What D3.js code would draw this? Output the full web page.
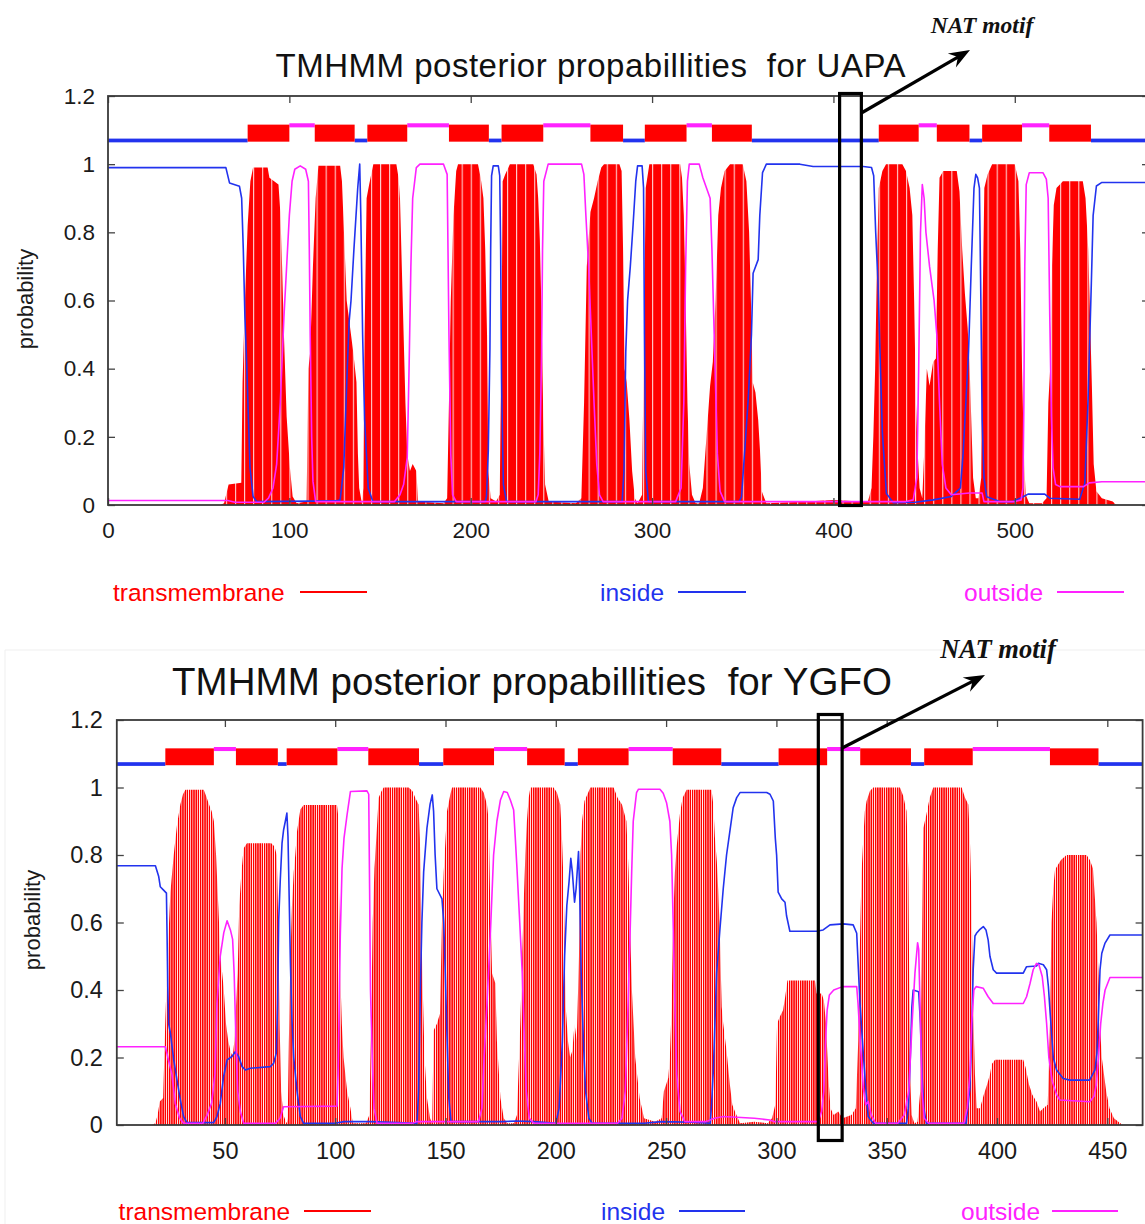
<!DOCTYPE html>
<html><head><meta charset="utf-8">
<script src="https://cdn.jsdelivr.net/npm/d3@7"></script>
<style>
html,body{margin:0;padding:0;background:#fff;}
svg{display:block;}
text{font-family:"Liberation Sans",Arial,sans-serif;}
text.nat{font-family:"Liberation Serif","Times New Roman",serif;font-style:italic;font-weight:bold;}
</style></head><body>
<svg id="chart" width="1145" height="1224"></svg>
<script>
// ---------------- DATA ----------------
const titles = ["TMHMM posterior propabillities  for UAPA", "TMHMM posterior propabillities  for YGFO"];
const legendLabels = ["transmembrane", "inside", "outside"];
const yTicks = [0, 0.2, 0.4, 0.6, 0.8, 1, 1.2];
const xTicksUapa = [0, 100, 200, 300, 400, 500];
const xTicksYgfo = [50, 100, 150, 200, 250, 300, 350, 400, 450];
const lengthUapa = [0, 574];
const lengthYgfo = [1, 466];
const natMotifUapa = [403.4, 415.4];
const natMotifYgfo = [319, 329.8];

// topology segments [start, end]
const topoTmUapa = [[77,100],[114,136],[143,165],[188,210],[217,240],[266,284],[296,319],[333,355],[425,447],[457,475],[482,504],[519,542]];
const topoInUapa = [[0,77],[136,143],[210,217],[284,296],[355,425],[475,482],[542,574]];
const topoOutUapa = [[100,114],[165,188],[240,266],[319,333],[447,457],[504,519]];
const topoTmYgfo = [[23,45],[55,74],[78,101],[115,138],[149,172],[187,204],[210,233],[253,275],[301,323],[338,361],[367,389],[424,446]];
const topoInYgfo = [[1,23],[74,78],[138,149],[204,210],[275,301],[361,367],[446,466]];
const topoOutYgfo = [[45,55],[101,115],[172,187],[233,253],[323,338],[389,424]];

// posterior probabilities [residue, probability]
const tmUapa = [[0,0],[62,0],[64,0.005],[66.5,0.06],[73.5,0.065],[74.2,0.36],[75.5,0.6],[77,0.82],[78.5,0.95],[80,0.99],[88,0.99],[89,0.96],[94,0.94],[95,0.86],[96,0.7],[97,0.5],[98.5,0.26],[100.3,0.11],[101.8,0.025],[104,0.005],
[109.5,0.01],[110.5,0.4],[111.5,0.45],[113,0.7],[114.5,0.9],[116,0.995],[128,0.995],[129,0.95],[130.5,0.75],[131.6,0.6],[133.5,0.52],[135.2,0.45],[137,0.36],[137.8,0.15],[138.5,0.05],[140,0.005],
[140.8,0.05],[141.5,0.5],[142.6,0.9],[144,0.94],[146.3,1.0],[159,1.0],[160.2,0.96],[161,0.9],[162,0.7],[163,0.5],[164,0.3],[165,0.15],[166.5,0.1],[168,0.12],[170,0.1],[171,0.01],
[185,0.005],[187,0.02],[188,0.3],[189,0.6],[190.5,0.85],[192,0.98],[193,1.0],[204,1.0],[205.5,0.96],[207,0.9],[208,0.75],[209,0.5],[209.7,0.1],[211,0.02],
[214,0.01],[216,0.03],[217,0.5],[217.6,0.95],[219,0.97],[221.6,1.0],[234.5,1.0],[236.3,0.97],[237.2,0.9],[238.1,0.78],[239.1,0.55],[240,0.26],[241,0.06],[243,0.01],
[258,0.005],[261,0.02],[262.5,0.3],[264,0.7],[266,0.86],[268,0.9],[270,0.95],[272,0.99],[273.5,1.0],[282,1.0],[283.2,0.98],[284,0.75],[284.8,0.4],[286,0.36],[287.5,0.25],[289,0.1],[290.5,0.02],[292,0.005],
[294.5,0.03],[295.5,0.5],[296.5,0.93],[298.5,1.0],[315.5,1.0],[316.5,0.96],[317.5,0.85],[318.5,0.6],[319.5,0.3],[320.5,0.12],[322,0.03],[324,0.005],
[326,0.005],[328,0.05],[330,0.2],[332,0.35],[333.5,0.42],[335,0.6],[336.5,0.85],[338,0.93],[340,0.98],[343,1.0],[350,1.0],[352,0.95],[353.5,0.8],[354.5,0.6],[355.5,0.36],[357,0.33],[358.5,0.25],[359.5,0.16],[360.5,0.04],[363,0.005],
[385,0.01],[400,0.015],[415,0.01],[419,0.01],[421,0.05],[422,0.2],[423,0.4],[424,0.7],[425,0.93],[427,0.98],[429,1.0],[438,1.0],[440,0.98],[442,0.93],[443.5,0.85],[444.5,0.6],[445.5,0.3],[446.5,0.15],[447.5,0.05],[449,0.02],
[450,0.15],[451.5,0.4],[453,0.35],[455,0.42],[456.5,0.43],[457.5,0.75],[458.5,0.96],[460.5,0.98],[468,0.98],[469.5,0.92],[471,0.75],[472.5,0.62],[474,0.52],[475,0.42],[476,0.25],[477,0.08],[478.5,0.02],
[480,0.02],[481.5,0.08],[482.3,0.6],[483.2,0.93],[485,0.97],[487.5,1.0],[500,1.0],[502,0.95],[503,0.75],[504,0.4],[505,0.15],[506,0.03],[508,0.005],
[515,0.005],[517.5,0.02],[518.5,0.3],[519.5,0.4],[520.5,0.7],[521.5,0.88],[523,0.93],[526.5,0.95],[537.5,0.95],[539,0.9],[540.5,0.75],[541.5,0.55],[542.5,0.35],[543.5,0.12],[545,0.04],[548,0.02],[554,0.01],[556,0],[574,0]];

const insideUapa = [[0,0.99],[65,0.99],[67,0.945],[72.5,0.935],[73.7,0.9],[74.6,0.75],[75.5,0.55],[76.5,0.41],[77.4,0.26],[78.3,0.11],[80,0.025],[82,0.01],[126,0.012],[128,0.015],[130,0.11],[131,0.26],[132,0.41],[133,0.54],[134,0.6],[135.6,0.75],[137.7,0.93],[138.8,1.0],[139.4,0.85],[140.4,0.5],[141.5,0.25],[143.5,0.05],[146,0.01],[208,0.01],[208.7,0.025],[209.7,0.16],[210.6,0.46],[211,0.75],[211.5,0.966],[212.4,0.995],[215.2,0.995],[216,0.966],[216.5,0.75],[217,0.36],[218,0.06],[219.8,0.01],[283.5,0.01],[284.5,0.1],[285.5,0.45],[286.5,0.6],[288,0.7],[289.5,0.82],[291,0.95],[292,0.995],[294.5,0.995],[295.3,0.93],[295.8,0.5],[296.5,0.1],[298,0.01],[348,0.01],[349.3,0.024],[351.1,0.16],[353,0.31],[354.8,0.5],[355.7,0.68],[358.5,0.72],[359.4,0.85],[360.9,0.975],[363,1.0],[381.5,1.0],[388.8,0.993],[416.4,0.993],[421,0.99],[422.2,0.966],[423.3,0.8],[424.6,0.65],[425.6,0.46],[427,0.21],[429.2,0.034],[433,0.007],[445,0.008],[455,0.015],[465,0.025],[468,0.04],[470,0.05],[471.5,0.15],[473,0.3],[474.5,0.45],[476,0.7],[477.5,0.93],[478.5,0.97],[479.5,0.96],[480.5,0.93],[481.3,0.6],[482,0.25],[483,0.08],[484.5,0.024],[491.7,0.01],[499,0.01],[504.6,0.024],[507.3,0.032],[516.5,0.032],[519.3,0.02],[535.8,0.017],[538.6,0.064],[540.4,0.31],[542.2,0.65],[543.2,0.85],[545,0.936],[547.8,0.946],[574,0.946]];

const outsideUapa = [[0,0.013],[66,0.013],[70,0.008],[86,0.008],[88.5,0.02],[91,0.05],[93,0.12],[95,0.3],[97,0.55],[98.5,0.7],[100,0.85],[101.5,0.95],[103,0.985],[106,0.995],[109,0.985],[110.5,0.95],[111,0.75],[111.5,0.5],[112.3,0.2],[113,0.07],[114.5,0.01],
[158,0.01],[161,0.03],[163,0.06],[165,0.14],[166,0.4],[167,0.7],[168,0.9],[170,0.99],[172,1.0],[185,1.0],[187,0.97],[188,0.5],[189,0.15],[190,0.03],[192,0.01],
[236,0.01],[237.2,0.03],[238.1,0.15],[239.1,0.45],[239.6,0.75],[240.3,0.95],[242.7,1.0],[261.1,1.0],[262.4,0.97],[263.5,0.85],[265,0.7],[266.5,0.5],[268,0.3],[269.5,0.12],[271,0.03],[273,0.01],
[313,0.01],[316,0.05],[317.5,0.3],[318.5,0.7],[319.5,0.95],[320.5,1.0],[326,1.0],[328,0.96],[330,0.93],[332,0.9],[333,0.75],[334,0.55],[335,0.35],[336,0.15],[337.5,0.04],[340,0.01],
[440,0.01],[444,0.015],[446,0.08],[447,0.4],[448,0.8],[449,0.94],[450,0.9],[451,0.8],[453,0.7],[455.5,0.6],[457,0.5],[458.5,0.3],[460,0.12],[462,0.05],[465,0.03],[475,0.035],[482,0.035],[483,0.01],
[500,0.01],[503.5,0.015],[504.5,0.05],[505,0.3],[505.5,0.7],[506.3,0.94],[508,0.975],[515.5,0.975],[517.4,0.956],[518.4,0.9],[519.3,0.55],[520.2,0.26],[521.1,0.11],[522.5,0.06],[524.8,0.054],[538,0.054],[541,0.065],[548,0.068],[574,0.068]];

const tmYgfo = [[1,0],[17,0],[18.5,0.005],[19.5,0.03],[20.5,0.07],[22,0.08],[23,0.31],[24,0.5],[25.3,0.69],[26.8,0.8],[28.3,0.89],[29.8,0.95],[31,0.98],[32.1,0.993],[40.4,0.993],[41.5,0.975],[42.6,0.953],[44,0.93],[45,0.9],[46,0.8],[47,0.65],[48,0.5],[49.4,0.41],[50.5,0.3],[51.5,0.25],[52.5,0.22],[53.5,0.2],[54.3,0.25],[55,0.35],[55.8,0.45],[56.5,0.65],[57.5,0.75],[58.5,0.82],[60,0.835],[71,0.835],[72.5,0.825],[73.5,0.8],[74.2,0.6],[74.8,0.3],[75.5,0.1],[76.5,0.03],[78,0.005],
[78.5,0.02],[79,0.25],[79.7,0.5],[80.4,0.65],[81.2,0.75],[81.9,0.8],[82.7,0.87],[84.2,0.935],[85.7,0.948],[100.8,0.948],[101.3,0.92],[101.7,0.7],[102.3,0.45],[103,0.3],[103.8,0.2],[105.4,0.1],[106.9,0.05],[108,0.005],
[114,0.005],[115.5,0.03],[116.3,0.3],[117,0.6],[117.8,0.76],[118.9,0.88],[119.7,0.97],[121,0.99],[122,1.0],[133.3,1.0],[135,0.99],[136.3,0.97],[137.8,0.95],[138.4,0.85],[139,0.6],[139.7,0.4],[140.5,0.2],[141.6,0.08],[143,0.02],[144,0.005],
[144.6,0.28],[146.1,0.3],[147.5,0.33],[148.4,0.6],[149.2,0.75],[150.7,0.93],[152.2,0.98],[153,1.0],[165.8,1.0],[167.3,0.985],[168.8,0.95],[169.6,0.9],[170.3,0.65],[171.1,0.45],[172.6,0.42],[173.3,0.25],[174.9,0.08],[176.4,0.02],[178,0.005],
[181,0.005],[182.4,0.03],[183.9,0.3],[184.8,0.5],[185.4,0.65],[186.2,0.8],[186.9,0.9],[187.7,0.97],[188.5,1.0],[199,1.0],[200.5,0.985],[202,0.95],[202.8,0.85],[203.6,0.7],[204.5,0.35],[205.5,0.25],[206.5,0.2],[207.5,0.22],[208.5,0.3],[209.5,0.25],[210.5,0.5],[211.2,0.8],[211.9,0.9],[213,0.96],[214,0.975],[215.7,1.0],[226.2,1.0],[228,0.97],[230,0.95],[232,0.9],[233,0.75],[233.6,0.6],[234.5,0.4],[236,0.2],[238,0.08],[240,0.02],[245,0.01],[248,0.02],
[249,0.1],[250.2,0.124],[251,0.14],[251.7,0.2],[252.5,0.35],[253.2,0.6],[254,0.75],[254.8,0.825],[256.3,0.924],[257.5,0.97],[259.3,0.993],[270.6,0.993],[271.4,0.95],[272.1,0.855],[273,0.78],[273.6,0.7],[274.4,0.56],[275.2,0.35],[275.9,0.3],[277.4,0.22],[278.9,0.12],[280,0.06],[281.2,0.04],[283.5,0.005],[290,0.01],
[296,0.005],[298,0.02],[299.5,0.06],[300.3,0.3],[301.5,0.32],[303,0.34],[304,0.38],[305,0.428],[317.5,0.428],[318.2,0.39],[320.5,0.39],[321.5,0.37],[322.5,0.3],[323.5,0.15],[324.5,0.05],[326,0.03],[328,0.04],[330,0.02],[334,0.03],[336,0.05],
[337.1,0.25],[337.9,0.55],[338.6,0.75],[339.4,0.85],[340.1,0.93],[340.9,0.96],[342.4,0.99],[343.9,1.0],[356,1.0],[357.5,0.975],[359,0.93],[359.8,0.75],[360.2,0.45],[360.6,0.15],[361.3,0.03],[362.5,0.005],[364,0.01],
[365.2,0.1],[365.8,0.46],[366.6,0.88],[368,0.92],[369.5,0.97],[371.1,1.0],[384,1.0],[385.5,0.97],[387,0.95],[387.7,0.85],[388.5,0.65],[389.2,0.35],[390,0.15],[390.8,0.05],[392.3,0.05],
[394,0.09],[395.5,0.12],[396.8,0.15],[397.6,0.18],[399.1,0.193],[411.9,0.193],[413,0.17],[414.5,0.12],[416,0.09],[417.9,0.07],[419.5,0.04],[421,0.05],[423,0.06],
[424,0.3],[424.7,0.6],[425.5,0.7],[426.3,0.756],[427.5,0.77],[429,0.785],[431.5,0.8],[440.6,0.8],[442.1,0.785],[443.5,0.76],[444.4,0.67],[445.1,0.6],[446,0.45],[446.7,0.3],[447.5,0.2],[448.5,0.15],[449.5,0.1],[451,0.05],[453,0.02],[455,0.01],[457,0],[466,0]];

const insideYgfo = [[1,0.768],[18.5,0.768],[20,0.736],[20.7,0.706],[22.2,0.696],[23.5,0.687],[23.8,0.558],[24.1,0.41],[24.5,0.3],[25.3,0.272],[26.8,0.193],[28.3,0.133],[29.8,0.074],[31.3,0.025],[32.8,0.007],[44.9,0.007],[46.4,0.025],[47.9,0.064],[49.4,0.143],[51,0.193],[53.2,0.203],[54.7,0.217],[56.2,0.203],[57.8,0.173],[59.3,0.163],[61.5,0.168],[70.6,0.173],[72.1,0.183],[73.3,0.213],[73.9,0.36],[74.4,0.608],[75.1,0.726],[75.9,0.835],[76.6,0.874],[77.4,0.9],[78.1,0.924],[78.6,0.855],[78.9,0.756],[79.7,0.479],[80.4,0.311],[81.2,0.2],[82.7,0.1],[84.2,0.025],[85.7,0.005],[100,0.005],[104,0.01],[116,0.01],[137.1,0.005],[137.8,0.1],[138.6,0.4],[139.3,0.6],[140.1,0.75],[141.6,0.88],[143,0.95],[144,0.978],[144.6,0.93],[145.3,0.8],[146.1,0.7],[148.4,0.67],[149.2,0.6],[149.9,0.45],[150.7,0.26],[151.5,0.08],[152.5,0.01],[176,0.01],[182,0.012],[190,0.01],[200,0.005],[201.5,0.05],[203,0.25],[204,0.5],[205,0.65],[206,0.72],[206.8,0.79],[207.5,0.75],[208.5,0.66],[209.2,0.7],[210.3,0.81],[210.8,0.7],[211.5,0.45],[212.5,0.25],[213.5,0.1],[215,0.02],[216.5,0.005],[240,0.005],[248,0.01],[262,0.008],[270,0.005],[270.6,0.06],[271.4,0.16],[272.9,0.45],[274.4,0.58],[275.9,0.7],[277.4,0.8],[278.9,0.87],[280.4,0.94],[282,0.97],[283.5,0.985],[295.6,0.985],[297.1,0.98],[298.6,0.96],[299.5,0.85],[300.1,0.8],[300.8,0.69],[302.4,0.67],[303.9,0.66],[304.6,0.62],[306.1,0.574],[318.2,0.574],[321.2,0.578],[324.3,0.593],[330.3,0.596],[334.8,0.593],[336.4,0.568],[337.9,0.36],[339.4,0.21],[340.5,0.11],[341.6,0.025],[343.9,0.005],[359,0.005],[359.8,0.05],[360.7,0.2],[361.4,0.35],[362,0.4],[364.5,0.395],[365.3,0.3],[366,0.15],[366.8,0.05],[368,0.005],[386,0.005],[387.7,0.11],[388.5,0.26],[389.2,0.46],[390,0.56],[390.7,0.568],[392,0.578],[393.8,0.588],[395,0.578],[396,0.548],[396.8,0.5],[398.3,0.46],[399.8,0.45],[411.9,0.45],[413.4,0.469],[417.9,0.471],[418.7,0.479],[421,0.475],[422.5,0.46],[423.3,0.41],[424,0.34],[425.5,0.2],[427,0.163],[430,0.138],[433,0.133],[442,0.133],[444.4,0.163],[445.3,0.212],[445.9,0.31],[446.7,0.46],[447.5,0.509],[448.9,0.538],[451.2,0.563],[466,0.563]];

const outsideYgfo = [[1,0.232],[23,0.232],[23.8,0.21],[24.5,0.19],[26,0.15],[27.5,0.064],[29.5,0.02],[31.3,0.005],[40,0.005],[42,0.03],[44,0.065],[45.5,0.15],[46.4,0.36],[47.9,0.5],[49.5,0.57],[51,0.605],[52.5,0.578],[53.5,0.55],[54.2,0.45],[55,0.25],[55.8,0.1],[57,0.04],[58.5,0.005],[73,0.005],[75,0.02],[76.6,0.054],[100.8,0.056],[101.3,0.15],[101.8,0.35],[102.3,0.56],[103.1,0.76],[104,0.85],[105.4,0.92],[106.9,0.988],[114.4,0.99],[115.2,0.98],[115.6,0.7],[116,0.4],[116.8,0.2],[117.6,0.05],[119,0.005],[135,0.005],[137,0.01],[165,0.01],[166.5,0.05],[167.5,0.2],[168.8,0.36],[170.3,0.56],[171.8,0.8],[173.3,0.9],[174.9,0.963],[176.4,0.988],[178,0.985],[179.4,0.963],[180.9,0.933],[181.6,0.855],[182.4,0.76],[183.5,0.62],[184.8,0.45],[185.8,0.25],[186.6,0.1],[188,0.02],[190,0.005],[228,0.005],[230,0.02],[231.5,0.1],[232.5,0.3],[233.6,0.55],[234.4,0.75],[235.1,0.9],[236.6,0.985],[237.5,0.995],[247.2,0.995],[248.7,0.983],[250.2,0.955],[251.7,0.9],[252.5,0.8],[253.2,0.6],[254,0.35],[254.8,0.15],[256.3,0.04],[258.5,0.01],[268,0.01],[272,0.02],[276,0.025],[290,0.02],[297,0.015],[299,0.01],[319,0.01],[320.5,0.04],[321.5,0.1],[322.3,0.25],[323,0.34],[324,0.385],[326,0.4],[330,0.41],[336.4,0.41],[337,0.36],[338,0.25],[339.4,0.11],[340.5,0.06],[341.6,0.07],[343,0.03],[345,0.005],[355,0.005],[358,0.03],[360,0.1],[361.5,0.3],[362.8,0.45],[364,0.54],[364.5,0.52],[365.1,0.36],[366,0.1],[367,0.02],[369,0.005],[385,0.005],[386.5,0.05],[387.7,0.15],[388.5,0.3],[389.5,0.4],[390.5,0.41],[393.8,0.405],[396,0.38],[398.3,0.36],[411.9,0.36],[413.4,0.38],[415,0.42],[416.4,0.46],[417.9,0.479],[419,0.475],[420.5,0.44],[421.5,0.38],[422.5,0.3],[423.5,0.2],[425,0.13],[427,0.09],[428.5,0.074],[442.1,0.069],[444,0.085],[445,0.12],[446,0.2],[447,0.3],[448,0.36],[449,0.4],[451.2,0.437],[466,0.437]];

// ---------------- DRAWING ----------------
const COL_TM = "#ff0000", COL_IN = "#2233ee", COL_OUT = "#ff22ff";
const svg = d3.select("#chart");
const defs = svg.append("defs");

// faint edge of pasted second figure
svg.append("path").attr("d","M5,1224 L5,650 L1145,650").attr("fill","none").attr("stroke","#efefef").attr("stroke-width",1);

function drawPanel(p) {
  const x = d3.scaleLinear().domain(p.xDomain).range(p.xRange);
  const y = d3.scaleLinear().domain([0, 1.2]).range(p.yRange);
  const kx = x(1) - x(0);
  const g = svg.append("g");

  defs.append("clipPath").attr("id", "clip" + p.id).append("rect")
    .attr("x", p.xRange[0]).attr("y", p.yRange[1])
    .attr("width", p.xRange[1] - p.xRange[0]).attr("height", p.yRange[0] - p.yRange[1]);

  // impulse-like fill pattern
  const pat = defs.append("pattern").attr("id", "pat" + p.id)
    .attr("patternUnits", "userSpaceOnUse").attr("y", 0).attr("height", 2000);
  if (p.id === "U") {
    const pw = 5 * kx;
    pat.attr("x", x(0)).attr("width", pw);
    pat.append("rect").attr("width", pw).attr("height", 2000).attr("fill", COL_TM);
    pat.append("rect").attr("width", 1.1).attr("height", 2000).attr("fill", "#fff").attr("opacity", 0.8);
  } else {
    pat.attr("x", x(1) - kx * 0.34).attr("width", kx);
    pat.append("rect").attr("width", kx * 0.68).attr("height", 2000).attr("fill", COL_TM);
  }

  const plot = g.append("g").attr("clip-path", "url(#clip" + p.id + ")");

  // TM posterior (impulses)
  plot.append("path").datum(p.tm)
    .attr("d", d3.area().x(d => x(d[0])).y0(y(0)).y1(d => y(d[1])))
    .attr("fill", "url(#pat" + p.id + ")");

  // topology track
  plot.selectAll(".tin").data(p.topoIn).enter().append("rect")
    .attr("x", d => x(d[0])).attr("width", d => x(d[1]) - x(d[0]))
    .attr("y", y(1.075)).attr("height", y(1.064) - y(1.075)).attr("fill", COL_IN);
  plot.selectAll(".tout").data(p.topoOut).enter().append("rect")
    .attr("x", d => x(d[0])).attr("width", d => x(d[1]) - x(d[0]))
    .attr("y", y(1.12)).attr("height", y(1.108) - y(1.12)).attr("fill", COL_OUT);
  plot.selectAll(".ttm").data(p.topoTm).enter().append("rect")
    .attr("x", d => x(d[0])).attr("width", d => x(d[1]) - x(d[0]))
    .attr("y", y(1.116)).attr("height", y(1.066) - y(1.116)).attr("fill", COL_TM);

  const line = d3.line().x(d => x(d[0])).y(d => y(d[1]));
  plot.append("path").datum(p.inside).attr("d", line)
    .attr("fill", "none").attr("stroke", COL_IN).attr("stroke-width", 1.6).attr("stroke-linejoin", "round");
  plot.append("path").datum(p.outside).attr("d", line)
    .attr("fill", "none").attr("stroke", COL_OUT).attr("stroke-width", 1.6).attr("stroke-linejoin", "round");

  // axes (inward ticks)
  const axStyle = sel => {
    sel.select(".domain").remove();
    sel.selectAll(".tick line").attr("stroke", "#444").attr("stroke-width", 1.3);
    sel.selectAll("text").attr("font-size", p.tickFont).attr("fill", "#1a1a1a");
  };
  g.append("g").attr("transform", `translate(${p.xRange[0]},0)`)
    .call(d3.axisLeft(y).tickValues(yTicks).tickSize(-7).tickPadding(p.yPad).tickFormat(d3.format("~g")))
    .call(axStyle);
  g.append("g").attr("transform", `translate(${p.xRange[1]},0)`)
    .call(d3.axisRight(y).tickValues(yTicks).tickSize(-7).tickFormat(""))
    .call(axStyle);
  g.append("g").attr("transform", `translate(0,${p.yRange[0]})`)
    .call(d3.axisBottom(x).tickValues(p.xTicks).tickSize(-7).tickPadding(p.xPad).tickFormat(d3.format("d")))
    .call(axStyle);
  g.append("g").attr("transform", `translate(0,${p.yRange[1]})`)
    .call(d3.axisTop(x).tickValues(p.xTicks).tickSize(-7).tickFormat(""))
    .call(axStyle);

  // frame
  g.append("rect").attr("x", p.xRange[0]).attr("y", p.yRange[1])
    .attr("width", p.xRange[1] - p.xRange[0]).attr("height", p.yRange[0] - p.yRange[1])
    .attr("fill", "none").attr("stroke", "#3a3a3a").attr("stroke-width", 1.8);

  // title
  g.append("text").attr("x", p.title.x).attr("y", p.title.y)
    .attr("font-size", p.title.size).attr("fill", "#111")
    .attr("textLength", p.title.len).attr("lengthAdjust", "spacing")
    .style("white-space", "pre").text(p.titleText);

  // y label
  g.append("text").attr("transform", `translate(${p.ylab.x},${p.ylab.y}) rotate(-90)`)
    .attr("text-anchor", "middle").attr("font-size", 22).attr("fill", "#1a1a1a").text("probability");

  // legend
  const cols = [COL_TM, COL_IN, COL_OUT];
  p.legend.forEach((L, i) => {
    g.append("text").attr("x", L.tx).attr("y", p.legendY).attr("font-size", 24.5)
      .attr("fill", cols[i]).text(legendLabels[i]);
    g.append("line").attr("x1", L.l1).attr("x2", L.l2)
      .attr("y1", p.legendY - 9).attr("y2", p.legendY - 9)
      .attr("stroke", cols[i]).attr("stroke-width", 2);
  });

  // NAT motif box and arrow
  const bx0 = x(p.nat[0]), bx1 = x(p.nat[1]);
  g.append("rect").attr("x", bx0).attr("y", p.box.y0)
    .attr("width", bx1 - bx0).attr("height", p.box.y1 - p.box.y0)
    .attr("fill", "none").attr("stroke", "#000").attr("stroke-width", 3.2);
  const sx = bx1, sy = p.arrow.sy, tx = p.arrow.tx, ty = p.arrow.ty;
  const ang = Math.atan2(ty - sy, tx - sx);
  const hl = 21, hw = 8;
  const bxp = tx - hl * Math.cos(ang), byp = ty - hl * Math.sin(ang);
  const nx = -Math.sin(ang), ny = Math.cos(ang);
  g.append("line").attr("x1", sx).attr("y1", sy)
    .attr("x2", tx - 8 * Math.cos(ang)).attr("y2", ty - 8 * Math.sin(ang))
    .attr("stroke", "#000").attr("stroke-width", 3.2);
  const nxp = tx - 14 * Math.cos(ang), nyp = ty - 14 * Math.sin(ang);
  g.append("path").attr("d",
    `M${tx},${ty} L${bxp + hw * nx},${byp + hw * ny} L${nxp},${nyp} L${bxp - hw * nx},${byp - hw * ny} Z`)
    .attr("fill", "#000");
  g.append("text").attr("class", "nat").attr("x", p.arrow.textX).attr("y", p.arrow.textY)
    .attr("text-anchor", "middle").attr("font-size", p.arrow.textSize)
    .attr("fill", "#111").text("NAT motif");
}

drawPanel({
  id: "U", xDomain: lengthUapa, xRange: [108, 1149], yRange: [505, 96],
  tm: tmUapa, inside: insideUapa, outside: outsideUapa,
  topoTm: topoTmUapa, topoIn: topoInUapa, topoOut: topoOutUapa,
  xTicks: xTicksUapa, tickFont: 22.5, yPad: 13, xPad: 17,
  titleText: titles[0], title: { x: 275.5, y: 77, size: 33, len: 630 },
  ylab: { x: 33, y: 299 },
  legendY: 601,
  legend: [{ tx: 113, l1: 300, l2: 367 }, { tx: 600, l1: 678, l2: 746 }, { tx: 964, l1: 1057, l2: 1124 }],
  nat: natMotifUapa, box: { y0: 93.5, y1: 505.5 },
  arrow: { sy: 113, tx: 970, ty: 50, textX: 982, textY: 33, textSize: 23.5 }
});

drawPanel({
  id: "Y", xDomain: lengthYgfo, xRange: [116.8, 1142.6], yRange: [1125, 720],
  tm: tmYgfo, inside: insideYgfo, outside: outsideYgfo,
  topoTm: topoTmYgfo, topoIn: topoInYgfo, topoOut: topoOutYgfo,
  xTicks: xTicksYgfo, tickFont: 23.5, yPad: 14, xPad: 17,
  titleText: titles[1], title: { x: 172, y: 695, size: 38.5, len: 720 },
  ylab: { x: 40, y: 920 },
  legendY: 1220,
  legend: [{ tx: 118.6, l1: 304, l2: 371 }, { tx: 601, l1: 679, l2: 745 }, { tx: 961, l1: 1052, l2: 1118 }],
  nat: natMotifYgfo, box: { y0: 714.5, y1: 1140.5 },
  arrow: { sy: 748, tx: 985, ty: 675, textX: 998, textY: 658, textSize: 26.5 }
});
</script>
</body></html>
